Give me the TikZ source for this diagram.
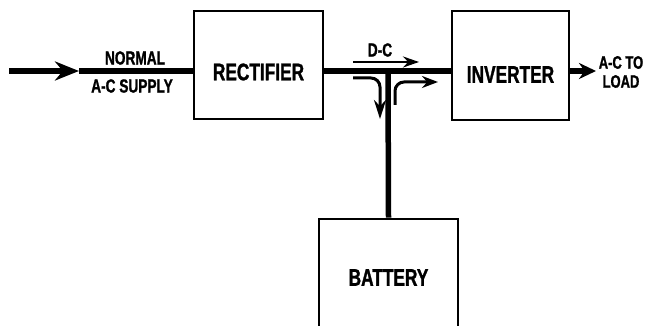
\documentclass[tikz,border=0pt]{standalone}
\usepackage{fontspec}
\setmainfont{Liberation Sans}[FakeStretch=0.72, BoldFeatures={FakeBold=1.2}]
\usepackage{tikz}
\usetikzlibrary{arrows.meta, positioning, calc}

\begin{document}
\begin{tikzpicture}[x=1pt, y=1pt,
  block/.style={rectangle, draw, line width=2.6pt, inner sep=0pt},
  blocktext/.style={font=\fontsize{24}{26}\selectfont\bfseries},
  bus/.style={line width=5.5pt},
  flow/.style={line width=3pt, -{Stealth[length=19pt, width=12pt]}},
  lbl/.style={font=\fontsize{19}{20}\selectfont\bfseries, inner sep=0pt, align=center}
]
  \clip (0,0) rectangle (647,326);

  % Nodes
  \node[block, minimum width=129pt, minimum height=108pt,
    label={[blocktext, yshift=-7pt]center:RECTIFIER}] (rect) at (258.5,261) {};
  \node[block, minimum width=117pt, minimum height=109pt,
    label={[blocktext, yshift=-9pt]center:INVERTER}] (inv) at (510.5,260.5) {};
  \node[block, minimum width=139pt, minimum height=117pt,
    label={[blocktext]center:BATTERY}] (bat) at (388.5,48.5) {};

  \node[lbl] (normal) at (135,268) {NORMAL};
  \node[lbl] (supply) at (132,240) {A-C SUPPLY};
  \node[lbl] (dc) at (380,276) {D-C};
  \node[lbl, font=\fontsize{18}{19}\selectfont\bfseries] (load) at (621,254) {A-C TO\\LOAD};

  \coordinate (in)  at (9,255);
  \coordinate (tip) at (79,255);
  \coordinate (jn)  at (388,255);
  \coordinate (out) at (596,255);
  \coordinate (dcA) at (353,264);
  \coordinate (dcB) at (419,264);
  \coordinate (chA) at (353,248);
  \coordinate (chB) at (380,207);
  \coordinate (diA) at (395,221);
  \coordinate (diB) at (438,244);

  % Lines
  \draw[bus, -{Stealth[length=24pt, width=19pt]}] (in) -- (tip);
  \draw[bus] (tip) -- (rect.west |- in);
  \draw[bus] (rect.east |- in) -- (inv.west |- in);
  \draw[bus] (bat.north) -- (jn);
  \draw[bus, -{Stealth[length=17pt, width=16pt]}] (inv.east |- in) -- (out);

  % Current flow
  \draw[flow, line width=2.6pt, -{Stealth[length=16pt, width=11pt]}] (dcA) -- (dcB);
  \draw[flow, rounded corners=9pt] (chA) -| (chB);
  \draw[flow, rounded corners=9pt, -{Stealth[length=16pt, width=12pt]}] (diA) |- (diB);
\end{tikzpicture}
\end{document}
